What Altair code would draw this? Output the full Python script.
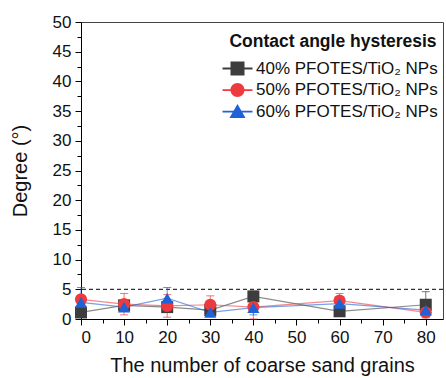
import altair as alt
import pandas as pd

# Number of coarse sand grains on the surface
grains = [0, 10, 20, 30, 40, 60, 80]

series = ["40% PFOTES/TiO₂ NPs", "50% PFOTES/TiO₂ NPs", "60% PFOTES/TiO₂ NPs"]

# Contact angle hysteresis (degree) and standard deviation per coating
hyst_40 = [1.1, 2.3, 2.0, 1.5, 3.8, 1.3, 2.4]
err_40 = [0.4, 0.5, 0.6, 0.5, 0.9, 0.4, 2.2]
hyst_50 = [3.3, 2.5, 2.2, 2.4, 2.0, 3.1, 1.1]
err_50 = [0.5, 1.8, 1.9, 1.5, 2.0, 1.2, 0.4]
hyst_60 = [2.8, 2.0, 3.5, 1.1, 1.9, 2.6, 1.5]
err_60 = [2.5, 0.6, 1.8, 0.6, 1.2, 0.6, 0.5]

threshold = [5]

y_ticks = [i * 2.5 for i in range(21)]
x_ticks = [i * 5 for i in range(17)]

colors = ["#3d3d3d", "#ec3a3e", "#1e62d8"]
shapes = ["square", "circle", "triangle-up"]
marker_sizes = [144, 150, 200]

# legend glyphs (unit box -1..1): a short line with the marker on top of it
leg_line = "M-2.14,-0.13L2.14,-0.13L2.14,0.13L-2.14,0.13Z"
legend_shapes = [
    leg_line + "M-1,-1L1,-1L1,1L-1,1Z",
    leg_line + "M1,0A1,1 0 1,1 -1,0A1,1 0 1,1 1,0Z",
    leg_line + "M0,-1.1L1.15,0.9L-1.15,0.9Z",
]

rows = []
for k, (name, vals, errs) in enumerate(
    zip(series, [hyst_40, hyst_50, hyst_60], [err_40, err_50, err_60])
):
    for g, v, e in zip(grains, vals, errs):
        rows.append({"series": name, "k": k, "grains": g, "degree": v,
                     "lo": max(v - e, 0), "hi": v + e})
df = pd.DataFrame(rows)

FONT = "Liberation Sans"

x_scale = alt.Scale(domain=[0, 84], nice=False, zero=False)
y_scale = alt.Scale(domain=[0, 50], nice=False)
color_plain = alt.Color("series:N", scale=alt.Scale(domain=series, range=colors), legend=None)

x_axis = alt.Axis(
    values=x_ticks,
    labelExpr="datum.value % 10 === 0 ? datum.label : ''",
    tickSize={"condition": {"test": "datum.value % 10 === 0", "value": 6}, "value": 4},
    title="The number of coarse sand grains",
    grid=False,
)
y_axis = alt.Axis(
    values=y_ticks,
    labelExpr="datum.value % 5 === 0 ? datum.label : ''",
    tickSize={"condition": {"test": "datum.value % 5 === 0", "value": 6}, "value": 4},
    title="Degree (°)",
    grid=False,
)

X = alt.X("grains:Q", scale=x_scale, axis=x_axis, title="The number of coarse sand grains")


def Y(field):
    return alt.Y(field, scale=y_scale, axis=y_axis, title="Degree (°)")


base = alt.Chart(df)

lines = base.mark_line(strokeWidth=1.2, opacity=0.6).encode(
    x=X, y=Y("degree:Q"), color=color_plain, order="grains:Q",
)

bars = base.mark_errorbar(ticks=True, size=8, thickness=1, opacity=0.7).encode(
    x=X, y=Y("lo:Q"), y2="hi:Q", color=color_plain,
)

points = base.mark_point(filled=True, opacity=1).encode(
    x=X,
    y=Y("degree:Q"),
    color=color_plain,
    shape=alt.Shape("series:N", scale=alt.Scale(domain=series, range=shapes), legend=None),
    size=alt.Size("series:N", scale=alt.Scale(domain=series, range=marker_sizes), legend=None),
    order="k:Q",
)

ref_line = alt.Chart(pd.DataFrame({"y": threshold})).mark_rule(
    color="#000000", strokeWidth=1, strokeDash=[4, 3]
).encode(y=Y("y:Q"))

legend_title = "Contact angle hysteresis"
legend_layer = base.mark_point(filled=True, opacity=1, size=196).encode(
    x=X,
    y=Y("degree:Q"),
    color=alt.Color("series:N", scale=alt.Scale(domain=series, range=colors),
                    legend=alt.Legend(title=legend_title)),
    shape=alt.Shape("series:N", scale=alt.Scale(domain=series, range=legend_shapes),
                    legend=alt.Legend(title=legend_title)),
).transform_filter("false")

chart = alt.layer(ref_line, lines, bars, points, legend_layer).resolve_scale(
    color="independent", shape="independent", size="independent"
).properties(
    width=362,
    height=297,
    padding={"left": 81, "top": 22, "right": 3, "bottom": 59},
    autosize=alt.AutoSizeParams(type="none"),
    background="white",
).configure_view(
    stroke="#444444", strokeWidth=1
).configure_axis(
    labelFont=FONT, titleFont=FONT, labelFontSize=17, titleFontSize=20,
    titleFontWeight="normal", labelColor="#111111", titleColor="#111111",
    domainColor="#000000", tickColor="#000000", domainWidth=1, tickWidth=1,
    labelPadding=4,
).configure_axisX(
    titlePadding=10,
).configure_axisY(
    titlePadding=22,
).configure_legend(
    orient="none", legendX=148, legendY=11, padding=0,
    titleFont=FONT, titleFontSize=17.5, titleFontWeight="bold", titleColor="#111111",
    titleAnchor="middle", titlePadding=9.5, titleLimit=400, labelLimit=400,
    labelFont=FONT, labelFontSize=17, labelColor="#111111", labelOffset=10,
    symbolSize=196, symbolStrokeWidth=0, rowPadding=3.6,
)

chart.save("out.html", embed_options={"renderer": "svg", "actions": False})
